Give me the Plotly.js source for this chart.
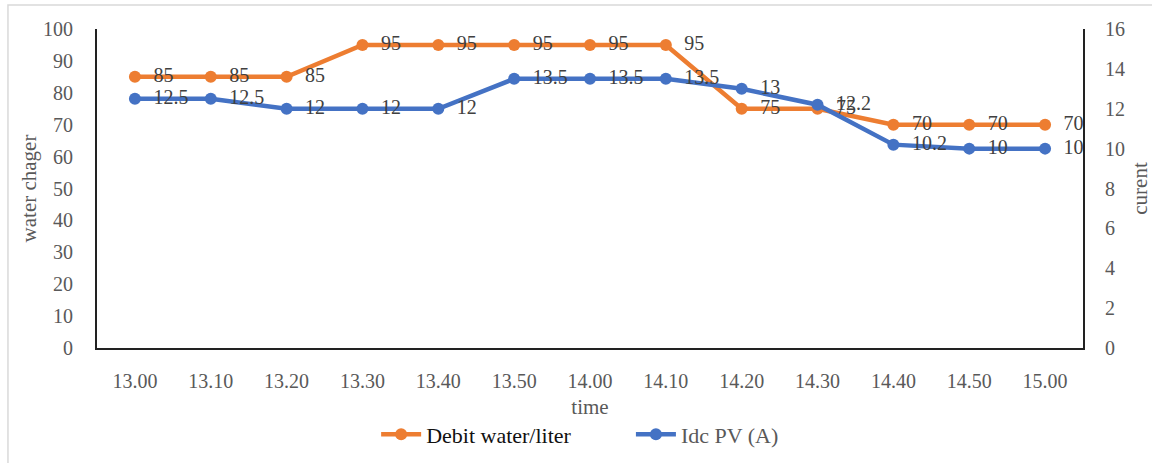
<!DOCTYPE html>
<html><head><meta charset="utf-8">
<script src="https://cdn.plot.ly/plotly-3.0.1.min.js"></script>
<style>html,body{margin:0;padding:0;background:#fff}#chart{width:1152px;height:463px}</style>
</head><body><div id="chart"></div>
<script>
const times = ["13.00","13.10","13.20","13.30","13.40","13.50","14.00","14.10","14.20","14.30","14.40","14.50","15.00"];
const debitWater = [85,85,85,95,95,95,95,95,75,75,70,70,70];
const idcPV = [12.5,12.5,12,12,12,13.5,13.5,13.5,13,12.2,10.2,10,10];

const FONT = "Liberation Serif, DejaVu Serif, serif";
const GRAY = "#595959";
const pad = v => "\u00a0\u00a0" + v;
const traces = [
  {x: times, y: debitWater, type: "scatter", mode: "lines+markers+text",
   name: "<span style='color:#111'>Debit water/liter</span>\u00a0\u00a0\u00a0\u00a0\u00a0\u00a0\u00a0\u00a0\u00a0\u00a0",
   text: debitWater.map(pad), textposition: "middle right",
   textfont: {family: FONT, size: 20, color: "#404040"},
   line: {color: "#ED7D31", width: 4.5}, marker: {color: "#ED7D31", size: 12}, yaxis: "y", cliponaxis: false},
  {x: times, y: idcPV, type: "scatter", mode: "lines+markers+text",
   name: "Idc PV (A)",
   text: idcPV.map(pad), textposition: "middle right",
   textfont: {family: FONT, size: 20, color: "#404040"},
   line: {color: "#4472C4", width: 4.5}, marker: {color: "#4472C4", size: 12}, yaxis: "y2", cliponaxis: false}
];
const layout = {
  width: 1152, height: 463,
  margin: {l: 97, r: 69, t: 29, b: 115, autoexpand: false},
  paper_bgcolor: "#fff", plot_bgcolor: "#fff",
  font: {family: FONT, size: 20, color: GRAY},
  showlegend: true,
  legend: {orientation: "h", x: 0.49, xanchor: "center", y: -0.205, yanchor: "top",
           font: {family: FONT, size: 22, color: GRAY}, itemwidth: 40, tracegroupgap: 0},
  xaxis: {type: "category", range: [-0.5, 12.5], showgrid: false, zeroline: false,
          showline: true, linecolor: "#222", linewidth: 2, ticks: "outside", ticklen: 14, tickcolor: "rgba(0,0,0,0)",
          tickfont: {family: FONT, size: 20, color: GRAY},
          title: {text: "time", font: {family: FONT, size: 21, color: GRAY}, standoff: 8}},
  yaxis: {range: [0, 100], dtick: 10, showgrid: false, zeroline: false,
          showline: true, linecolor: "#222", linewidth: 2, ticks: "outside", ticklen: 18, tickcolor: "rgba(0,0,0,0)",
          tickfont: {family: FONT, size: 20, color: GRAY},
          title: {text: "water chager", font: {family: FONT, size: 21, color: GRAY}, standoff: 1}},
  yaxis2: {range: [0, 16], dtick: 2, overlaying: "y", side: "right", showgrid: false, zeroline: false,
           showline: true, linecolor: "#222", linewidth: 2, ticks: "outside", ticklen: 16, tickcolor: "rgba(0,0,0,0)",
           tickfont: {family: FONT, size: 20, color: GRAY},
           title: {text: "curent", font: {family: FONT, size: 21, color: GRAY}, standoff: 10}},
  shapes: [{type: "rect", xref: "paper", yref: "paper", x0: -0.0903, x1: 1.078, y0: -0.381, y1: 1.075,
            line: {color: "#d9d9d9", width: 1.5}, fillcolor: "rgba(0,0,0,0)", layer: "below"}]
};
Plotly.newPlot("chart", traces, layout, {displayModeBar: false, staticPlot: true});
</script></body></html>
